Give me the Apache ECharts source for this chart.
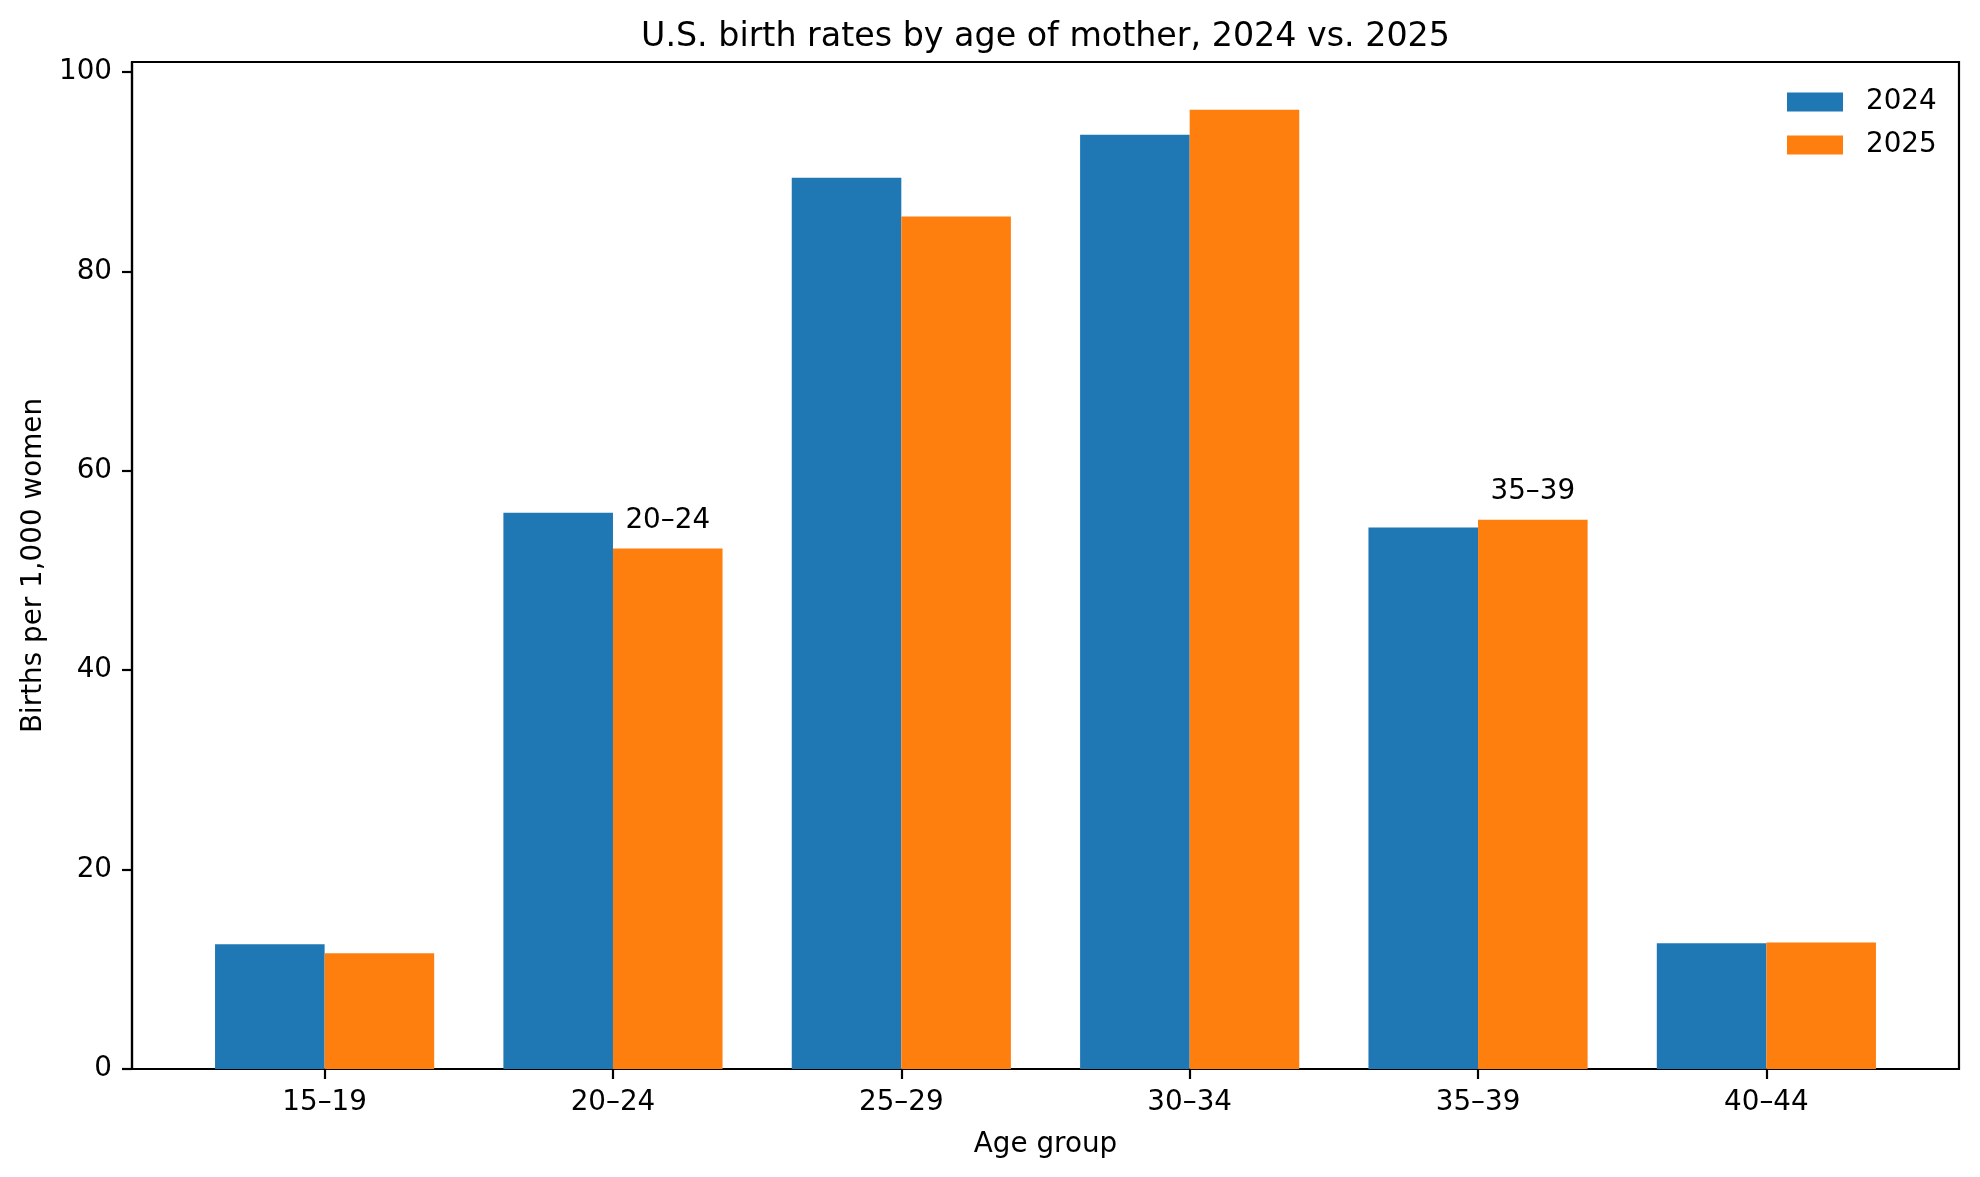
<!DOCTYPE html>
<html>
<head>
<meta charset="utf-8">
<script src="https://cdn.jsdelivr.net/npm/echarts@6/dist/echarts.min.js"></script>
<style>html,body{margin:0;padding:0;background:#fff;}#c{width:1980px;height:1177px;}</style>
</head>
<body>
<div id="c"></div>
<script>
const categories = ['15–19', '20–24', '25–29', '30–34', '35–39', '40–44'];
const values2024 = [12.5, 55.8, 89.4, 93.7, 54.3, 12.6];
const values2025 = [11.6, 52.2, 85.5, 96.2, 55.1, 12.7];
const annotated2025 = ['20–24', '35–39'];
const yTicks = [0, 20, 40, 60, 80, 100];

const FONT = 'DejaVu Sans';
const FS = 27.8;
const chart = echarts.init(document.getElementById('c'), null, {renderer: 'canvas'});

const xIdx = categories.map((c, i) => i);
const s2024 = categories.map((c, i) => [i, values2024[i]]);
const s2025 = categories.map((c, i) => {
  const item = {value: [i, values2025[i]]};
  if (annotated2025.indexOf(c) >= 0) {
    item.label = {show: true, position: 'top', distance: 14, formatter: () => c,
      color: '#000', fontFamily: FONT, fontSize: FS};
  }
  return item;
});

chart.setOption({
  animation: false,
  backgroundColor: '#fff',
  textStyle: {fontFamily: FONT},
  graphic: [{
    type: 'text', x: 1045.5, y: 37,
    style: {text: 'U.S. birth rates by age of mother, 2024 vs. 2025', fontFamily: FONT, fontSize: 33.3,
      fill: '#000', textAlign: 'center', textVerticalAlign: 'middle'}
  }],
  legend: {
    orient: 'vertical', left: 1787, top: 88, itemWidth: 56, itemHeight: 19, itemGap: 15, padding: 0,
    icon: 'rect',
    textStyle: {fontFamily: FONT, fontSize: FS, color: '#000', padding: [0, 0, 0, 18]},
    data: ['2024', '2025']
  },
  grid: {left: 132, right: 21, top: 62, bottom: 108, show: true, borderColor: '#000', borderWidth: 2.2, containLabel: false},
  xAxis: {
    type: 'value', min: -0.668, max: 5.668,
    name: 'Age group', nameLocation: 'middle', nameGap: 62,
    nameTextStyle: {fontFamily: FONT, fontSize: FS, color: '#000'},
    axisLine: {show: true, onZero: false, lineStyle: {color: '#000', width: 2.2}},
    axisTick: {show: true, length: 10, lineStyle: {color: '#000', width: 2.2}, customValues: xIdx},
    axisLabel: {show: true, margin: 20, fontFamily: FONT, fontSize: FS, color: '#000',
      customValues: xIdx, formatter: v => categories[Math.round(v)] || ''},
    splitLine: {show: false}
  },
  yAxis: {
    type: 'value', min: 0, max: 101,
    name: 'Births per 1,000 women', nameLocation: 'middle', nameGap: 84,
    nameTextStyle: {fontFamily: FONT, fontSize: FS, color: '#000'},
    axisLine: {show: true, onZero: false, lineStyle: {color: '#000', width: 2.2}},
    axisTick: {show: true, length: 10, lineStyle: {color: '#000', width: 2.2}, customValues: yTicks},
    axisLabel: {show: true, margin: 20, fontFamily: FONT, fontSize: FS, color: '#000', customValues: yTicks},
    splitLine: {show: false}
  },
  series: [
    {name: '2024', type: 'bar', data: s2024, barWidth: '38%', barGap: '0%', itemStyle: {color: '#1f77b4'}},
    {name: '2025', type: 'bar', data: s2025, barWidth: '38%', barGap: '0%', itemStyle: {color: '#ff7f0e'}}
  ]
});
</script>
</body>
</html>
